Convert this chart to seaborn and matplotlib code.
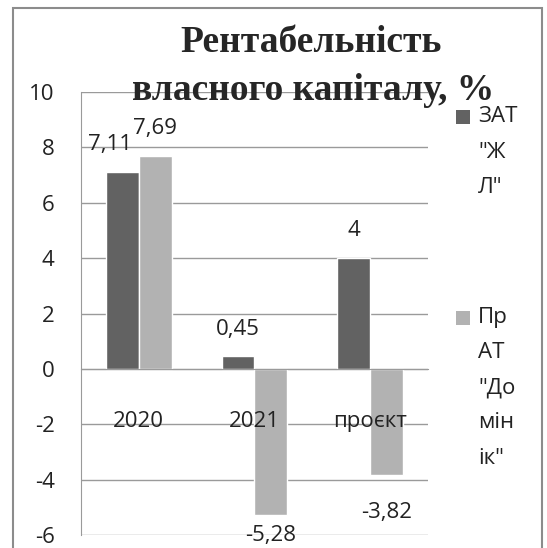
import matplotlib
matplotlib.use("Agg")
import matplotlib.pyplot as plt
from matplotlib.patches import Rectangle
import pandas as pd
import seaborn as sns

# chart data
categories = ["2020", "2021", "проєкт"]
series_names = ["ЗАТ \"ЖЛ\"", "ПрАТ \"Домінік\""]
legend_lines = [["ЗАТ", "\"Ж", "Л\""], ["Пр", "АТ", "\"До", "мін", "ік\""]]
zat_values = [7.11, 0.45, 4.0]
prat_values = [7.69, -5.28, -3.82]
y_ticks = [-6, -4, -2, 0, 2, 4, 6, 8, 10]
colors = ["#626262", "#b2b2b2"]

df = pd.DataFrame({
    "cat": categories * 2,
    "series": [series_names[0]] * 3 + [series_names[1]] * 3,
    "value": zat_values + prat_values,
})

sns.set_style("white")
plt.rcParams["font.family"] = ["Open Sans", "DejaVu Sans"]

W, H = 547, 548
fig = plt.figure(figsize=(W / 100, H / 100), dpi=100)
ax = fig.add_axes([81 / W, 1 - 535 / H, (428 - 81) / W, (535 - 92) / H])

sns.barplot(data=df, x="cat", y="value", hue="series", palette=colors,
            width=0.57, ax=ax, legend=False, saturation=1, errorbar=None)

ax.set_xlim(-0.5, 2.5)
ax.set_ylim(-6, 10)
ax.set_yticks(y_ticks)
ax.set_yticklabels([str(t) for t in y_ticks])
ax.set_xlabel("")
ax.set_ylabel("")
ax.set_axisbelow(False)

grid_c = "#9a9a9a"
for t in y_ticks:
    ax.axhline(t, color=grid_c, lw=1, zorder=0)

for s in ["top", "right"]:
    ax.spines[s].set_visible(False)
ax.spines["left"].set_color(grid_c)
ax.spines["bottom"].set_color(grid_c)
ax.spines["bottom"].set_position(("data", 0))

ax.tick_params(axis="y", direction="out", length=6, color=grid_c, labelsize=16,
               labelcolor="#222222", pad=13)
ax.set_xticks([0, 1, 2])
ax.set_xticks([-0.5, 0.5, 1.5, 2.5], minor=True)
ax.tick_params(axis="x", which="major", length=0, labelsize=16, labelcolor="#222222", pad=30)
ax.tick_params(axis="x", which="minor", direction="out", length=6, color=grid_c)

# value labels
for cont in ax.containers:
    labels = [f"{v:g}".replace(".", ",") for v in cont.datavalues]
    texts = ax.bar_label(cont, labels=labels, padding=12, fontsize=16, color="#222222")
    for txt, v in zip(texts, cont.datavalues):
        if v < 0:
            txt.xyann = (0, -20)
        if v == -5.28:
            txt.xyann = (0, -7)
        if v == 7.11:
            txt.xyann = (-9, 12)

# legend (wrapped like the original)
line_h = 35
entry_top = [117, 318]
for lines, c, y0 in zip(legend_lines, colors, entry_top):
    fig.patches.append(Rectangle((456 / W, 1 - (y0 + 7) / H), 14 / W, 14 / H,
                                 transform=fig.transFigure, facecolor=c, edgecolor="none"))
    for i, line in enumerate(lines):
        fig.text(478 / W, 1 - (y0 + i * line_h) / H, line, ha="left", va="center",
                 fontsize=16, color="#222222")

# title
fig.text(311 / W, 1 - 52 / H, "Рентабельність", ha="center", va="baseline",
         fontsize=27, fontweight="bold", family="Liberation Serif")
fig.text(313 / W, 1 - 100 / H, "власного капіталу, %", ha="center", va="baseline",
         fontsize=27, fontweight="bold", family="Liberation Serif")

# chart border
fig.patches.append(Rectangle((13 / W, -0.05), (542 - 13) / W, 1.05 - 8 / H,
                             transform=fig.transFigure, fill=False, edgecolor="#8c8c8c", lw=1.5))

fig.savefig("out.png", dpi=100)
